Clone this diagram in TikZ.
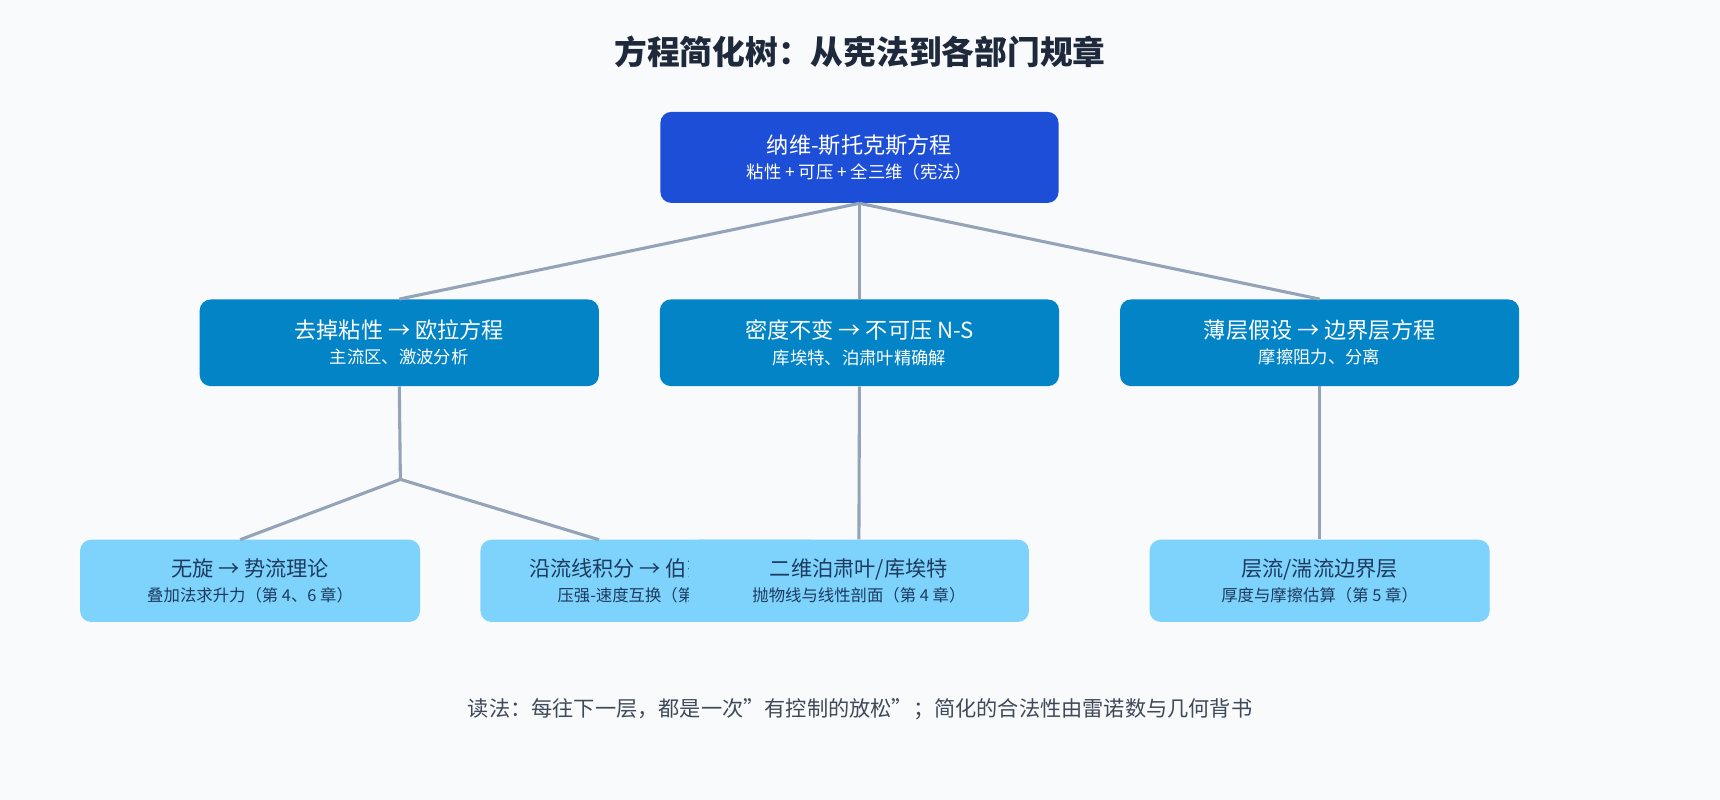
\documentclass[tikz,border=0pt]{standalone}
\usepackage{fontspec}
\setmainfont{Noto Sans CJK SC}
\usetikzlibrary{positioning}
\definecolor{bgc}{HTML}{F8FAFC}
\definecolor{titc}{HTML}{1E293B}
\definecolor{rootc}{HTML}{1D4ED8}
\definecolor{midc}{HTML}{0284C7}
\definecolor{leafc}{HTML}{7DD3FC}
\definecolor{leaft}{HTML}{1E3A5F}
\definecolor{linec}{HTML}{94A3B8}
\begin{document}
\begin{tikzpicture}[
    x = 0.02cm, y = 0.02cm,
    box/.style = {rounded corners = 0.2cm, align = center, inner sep = 0pt},
    root/.style = {box, fill = rootc, text = white, minimum width = 7.26cm, minimum height = 1.66cm},
    mid/.style = {box, fill = midc, text = white, minimum width = 7.28cm, minimum height = 1.58cm},
    leaf/.style = {box, fill = leafc, text = leaft, minimum width = 6.2cm, minimum height = 1.5cm},
    link/.style = {draw = linec, line width = 1.6pt}
    ]
    \fill[bgc] (0,0) rectangle (1568,-729);

    \node[text = titc, font = \bfseries\fontsize{17}{20}\selectfont] (title) at (784,-47) {方程简化树：从宪法到各部门规章};

    \node[root] (ns) at (783.5,-143.5) {{\fontsize{11.5}{15}\selectfont 纳维-斯托克斯方程}\\[1pt] {\fontsize{9}{12}\selectfont 粘性 + 可压 + 全三维（宪法）}};

    \node[mid] (euler) at (364,-312.5) {{\fontsize{11.5}{15}\selectfont 去掉粘性 → 欧拉方程}\\[1pt] {\fontsize{9}{12}\selectfont 主流区、激波分析}};
    \node[mid] (incomp) at (783.5,-312.5) {{\fontsize{11.5}{15}\selectfont 密度不变 → 不可压 N-S}\\[1pt] {\fontsize{9}{12}\selectfont 库埃特、泊肃叶精确解}};
    \node[mid] (bl) at (1203,-312.5) {{\fontsize{11.5}{15}\selectfont 薄层假设 → 边界层方程}\\[1pt] {\fontsize{9}{12}\selectfont 摩擦阻力、分离}};

    \node[leaf] (pot) at (228,-529.5) {{\fontsize{11}{14}\selectfont 无旋 → 势流理论}\\[1pt] {\fontsize{8.5}{11}\selectfont 叠加法求升力（第 4、6 章）}};
    \node[leaf] (bern) at (593,-529.5) {{\fontsize{11}{14}\selectfont 沿流线积分 → 伯努利方程}\\[1pt] {\fontsize{8.5}{11}\selectfont 压强-速度互换（第 3 章）}};
    \node[leaf] (pois) at (783,-529.5) {{\fontsize{11}{14}\selectfont 二维泊肃叶/库埃特}\\[1pt] {\fontsize{8.5}{11}\selectfont 抛物线与线性剖面（第 4 章）}};
    \node[leaf] (lam) at (1203,-529.5) {{\fontsize{11}{14}\selectfont 层流/湍流边界层}\\[1pt] {\fontsize{8.5}{11}\selectfont 厚度与摩擦估算（第 5 章）}};

    \coordinate (fork) at (365,-437);
    \coordinate (potin) at (219,-492);
    \coordinate (bernin) at (546,-492);

    \draw[link] (ns.south) -- (euler.north);
    \draw[link] (ns.south) -- (incomp.north);
    \draw[link] (ns.south) -- (bl.north);
    \draw[link] (euler.south) -- (fork);
    \draw[link] (fork) -- (potin);
    \draw[link] (fork) -- (bernin);
    \draw[link] (incomp.south) -- (pois.north);
    \draw[link] (bl.south) -- (lam.north);

    \node[text = titc!85, font = \fontsize{11}{14}\selectfont] (note) at (784,-647) {读法：每往下一层，都是一次"有控制的放松"；简化的合法性由雷诺数与几何背书};
\end{tikzpicture}
\end{document}
